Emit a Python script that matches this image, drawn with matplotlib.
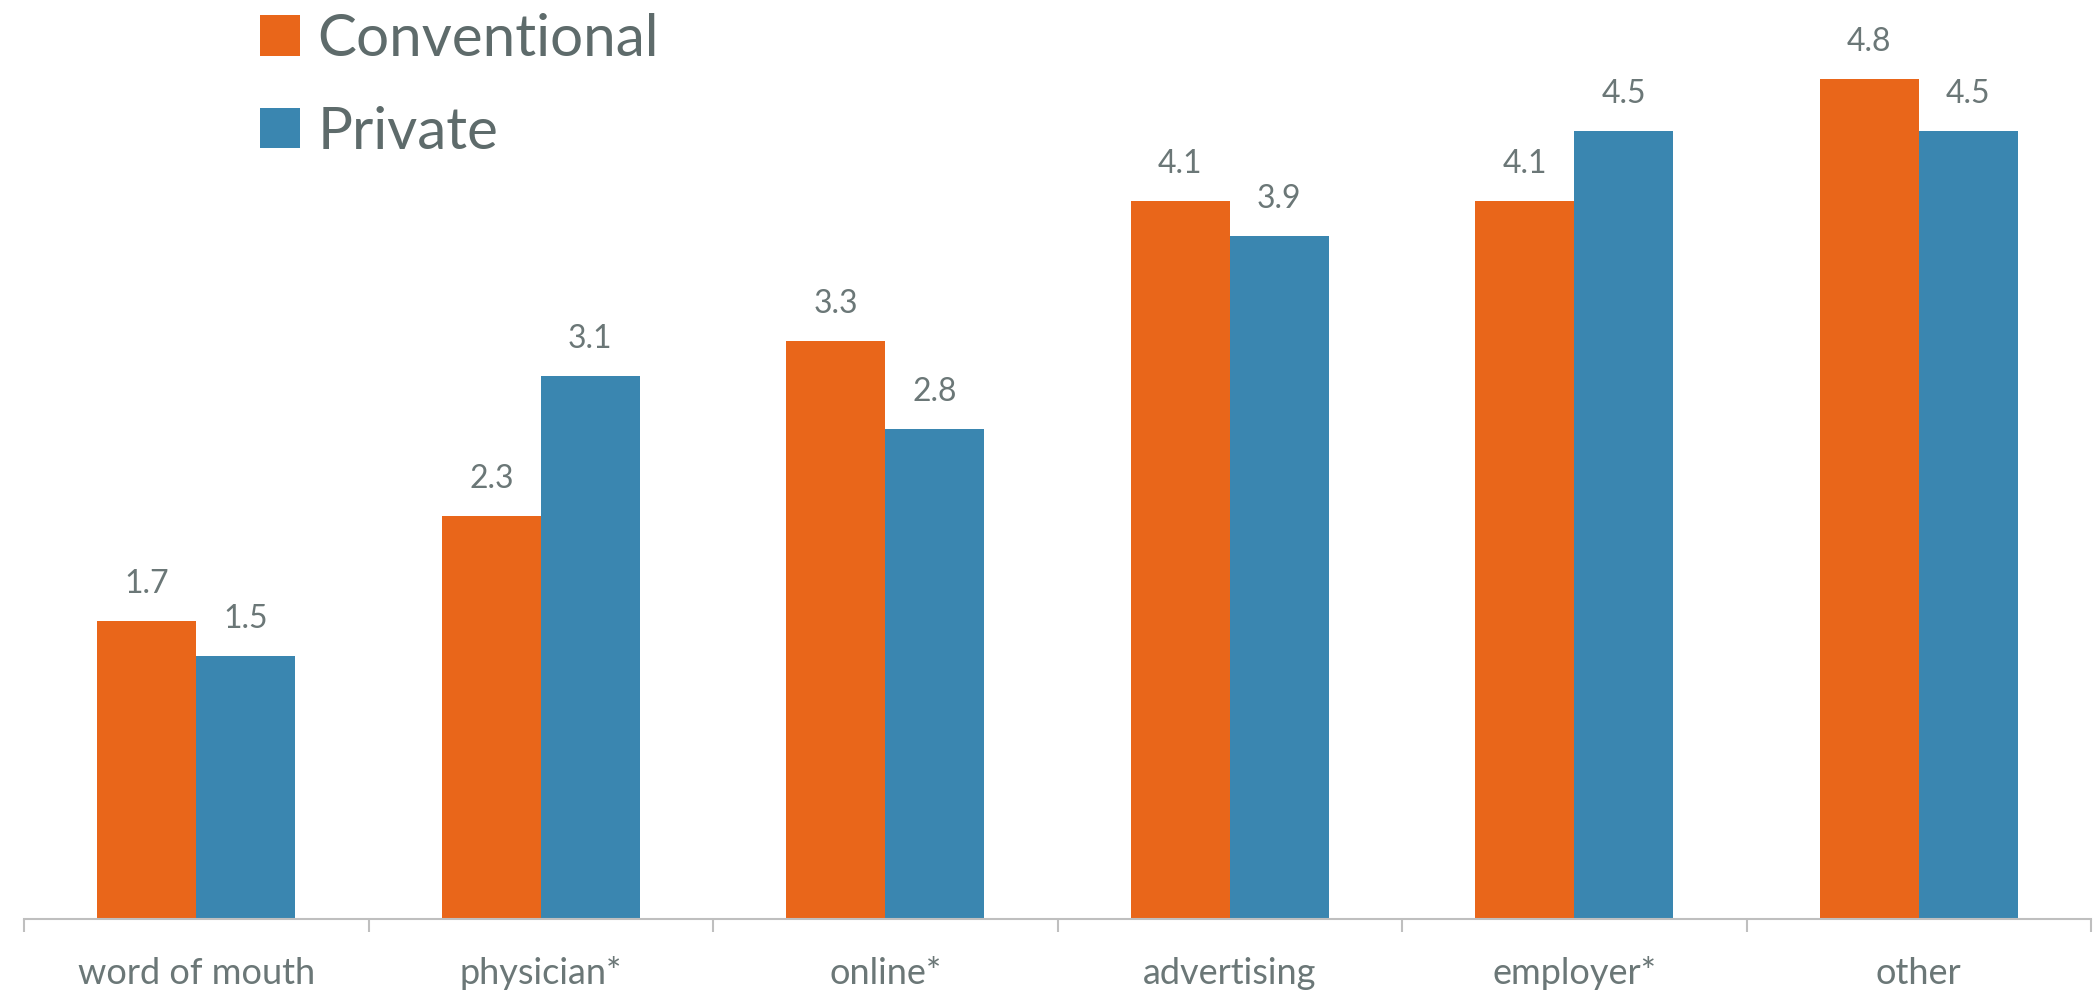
import matplotlib
matplotlib.use('Agg')
import matplotlib.pyplot as plt
import numpy as np

categories = ['word of mouth', 'physician*', 'online*', 'advertising', 'employer*', 'other']
conventional = [1.7, 2.3, 3.3, 4.1, 4.1, 4.8]
private = [1.5, 3.1, 2.8, 3.9, 4.5, 4.5]
series_names = ['Conventional', 'Private']

orange = '#E9661A'
blue = '#3A86B0'
grey_text = '#6B7777'

plt.rcParams['font.family'] = ['Lato', 'DejaVu Sans']

fig = plt.figure(figsize=(20.94, 9.94), dpi=100)
ax = fig.add_axes([24/2094, 1-919/994, 2067/2094, 919/994])

x = np.arange(len(categories))
w = 0.287
b1 = ax.bar(x - w/2, conventional, w, color=orange, label=series_names[0])
b2 = ax.bar(x + w/2, private, w, color=blue, label=series_names[1])

# value labels above each bar
for bars, vals in [(b1, conventional), (b2, private)]:
    for r, v in zip(bars, vals):
        ax.annotate('%.1f' % v, (r.get_x() + r.get_width()/2, v),
                    xytext=(0, 16), textcoords='offset points',
                    ha='center', va='bottom', fontsize=23, color=grey_text)

ax.set_xlim(-0.5, len(categories) - 0.5)
ax.set_ylim(0, 5.25)
ax.set_yticks([])
for s in ['top', 'right', 'left']:
    ax.spines[s].set_visible(False)
ax.spines['bottom'].set_color('#BFBFBF')
ax.spines['bottom'].set_linewidth(1.5)

ax.set_xticks(x)
ax.set_xticklabels(categories, fontsize=26, color=grey_text)
ax.set_xticks(np.arange(-0.5, len(categories)), minor=True)
ax.tick_params(axis='x', which='major', length=0, pad=27)
ax.tick_params(axis='x', which='minor', length=9, width=1.5, color='#BFBFBF')

leg = ax.legend(loc='upper left', bbox_to_anchor=(260/2094, 0.987),
                bbox_transform=fig.transFigure, frameon=False, fontsize=42,
                handlelength=0.69, handleheight=0.69, handletextpad=0.3,
                labelspacing=0.68, borderpad=0, borderaxespad=0)
for t in leg.get_texts():
    t.set_color('#5E6B6B')

fig.savefig('out.png', dpi=100)
